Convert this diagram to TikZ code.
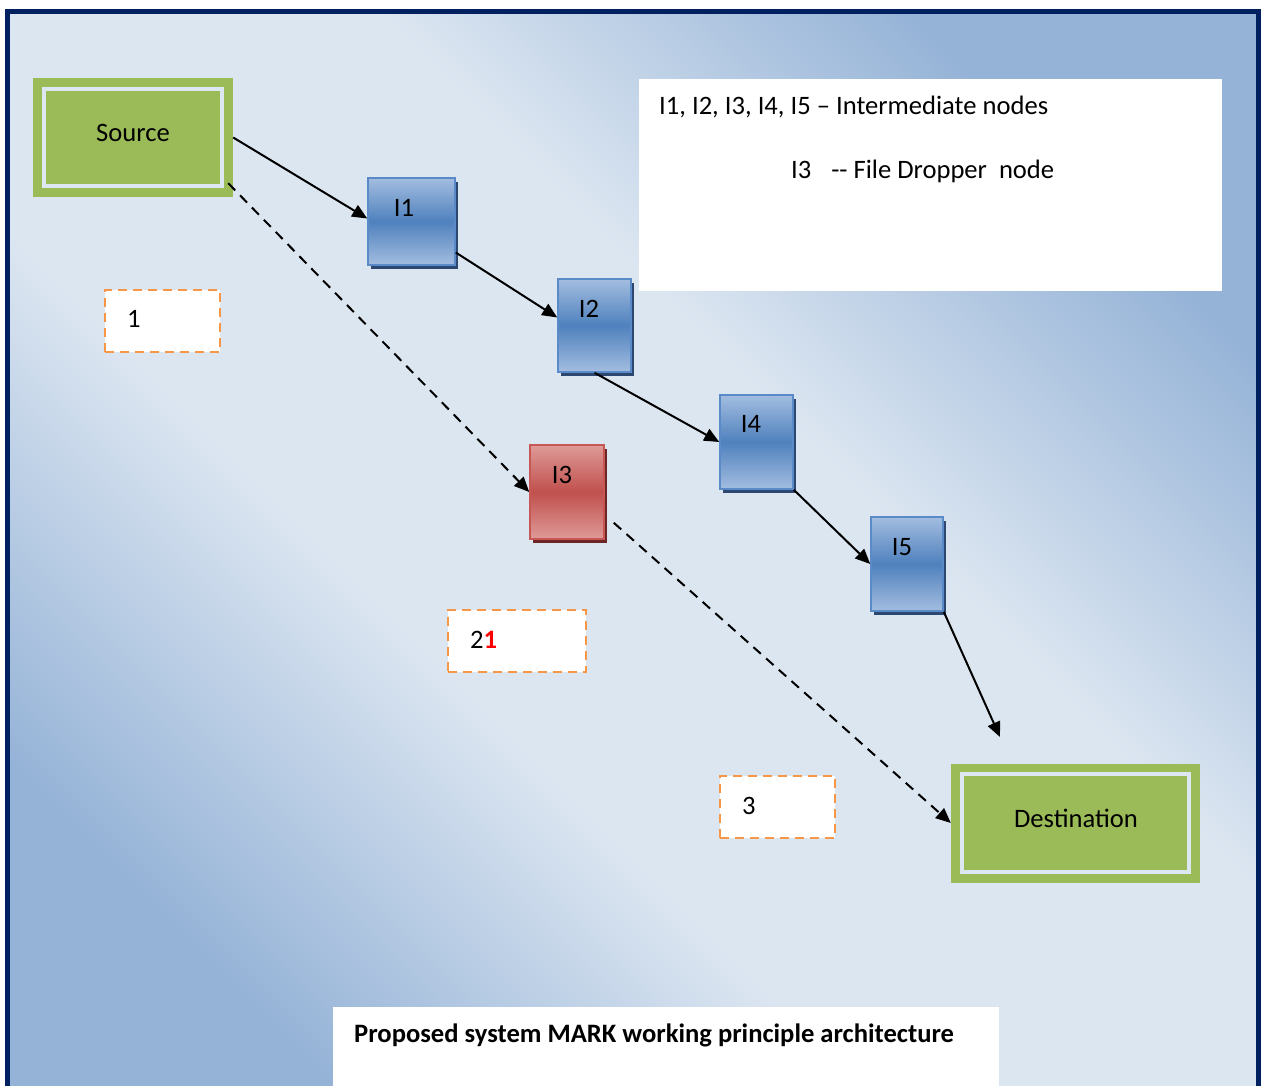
\documentclass[tikz,border=0pt]{standalone}
\usepackage{fontspec}
\setmainfont{Carlito}
\usetikzlibrary{arrows.meta,shadows,calc}
\definecolor{navy}{HTML}{002060}
\definecolor{bgblue}{HTML}{95B3D7}
\definecolor{bglight}{HTML}{DCE6F1}
\definecolor{grn}{HTML}{9BBB59}
\definecolor{innerline}{HTML}{DDE7F2}
\definecolor{orng}{HTML}{F79646}
\definecolor{bmid}{HTML}{4F81BD}
\definecolor{blight}{HTML}{A3BDE0}
\definecolor{bedge}{HTML}{5B8AC9}
\definecolor{bshadow}{HTML}{2C4770}
\definecolor{rmid}{HTML}{C0504D}
\definecolor{rlight}{HTML}{DE9A98}
\definecolor{redge}{HTML}{C65754}
\definecolor{rshadow}{HTML}{6E2624}
\pgfdeclarehorizontalshading{bgshade}{100bp}{color(0bp)=(bgblue); color(25bp)=(bgblue); color(41bp)=(bglight); color(59bp)=(bglight); color(75bp)=(bgblue); color(100bp)=(bgblue)}
\begin{document}
\begin{tikzpicture}[x=1pt,y=-1pt,
  lbl/.style={font=\fontsize{26.6}{31}\selectfont, inner sep=0pt, text=black},
  greenbox/.style={fill=grn, inner sep=0pt},
  innerframe/.style={draw=innerline, line width=4pt},
  bluebox/.style={draw=bedge, line width=1.5pt, top color=blight, bottom color=blight, middle color=bmid, inner sep=0pt,
    drop shadow={shadow xshift=3pt, shadow yshift=-4pt, fill=bshadow, opacity=1}},
  redbox/.style={draw=redge, line width=1.5pt, top color=rlight, bottom color=rlight, middle color=rmid, inner sep=0pt,
    drop shadow={shadow xshift=3pt, shadow yshift=-4pt, fill=rshadow, opacity=1}},
  dashbox/.style={draw=orng, fill=white, line width=2pt, dash pattern=on 9pt off 6pt, inner sep=0pt},
  whitebox/.style={fill=white, inner sep=0pt},
  arr/.style={line width=2pt, -{Triangle[length=15pt,width=13pt]}},
  darr/.style={line width=2pt, dash pattern=on 10pt off 7pt, -{Triangle[length=15pt,width=13pt]}}
]
\clip (0,0) rectangle (1261,1086);
\fill[white] (0,0) rectangle (1261,1086);
% background
\shade[shading=bgshade, shading angle=45] (7.5,11.5) rectangle (1258.5,1110);
\draw[navy, line width=5pt] (7.5,11.5) rectangle (1258.5,1110);

% legend and caption boxes
\node[whitebox, minimum width=583pt, minimum height=212pt] (legend) at (930.5,185) {};
\node[lbl, anchor=west] (leg1) at (659,107) {I1, I2, I3, I4, I5 – Intermediate nodes};
\node[lbl, anchor=west] (leg2) at (791,171) {I3\hspace{0.75em}-{}- File Dropper\ \ node};
\node[whitebox, minimum width=666pt, minimum height=110pt] (capbox) at (666,1062) {};
\node[lbl, anchor=west, font=\fontsize{26.6}{31}\selectfont\bfseries] (cap) at (354,1035) {Proposed system MARK working principle architecture};

% source / destination
\node[greenbox, minimum width=200pt, minimum height=119pt] (src) at (133,137.5) {};
\draw[innerframe] ([shift={(11pt,-11pt)}]src.north west) rectangle ([shift={(-11pt,11pt)}]src.south east);
\node[lbl] (srct) at (133,133) {Source};
\node[greenbox, minimum width=249pt, minimum height=119pt] (dst) at (1075.5,823) {};
\draw[innerframe] ([shift={(11pt,-11pt)}]dst.north west) rectangle ([shift={(-11pt,11pt)}]dst.south east);
\node[lbl] (dstt) at (1076,818) {Destination};

% intermediate nodes
\node[bluebox, minimum width=87pt, minimum height=87pt] (i1) at (411.5,221.5) {};
\node[lbl] (i1t) at (404,208) {I1};
\node[bluebox, minimum width=73pt, minimum height=93pt] (i2) at (594.5,325.5) {};
\node[lbl] (i2t) at (589,309) {I2};
\node[bluebox, minimum width=73pt, minimum height=94pt] (i4) at (756.5,442) {};
\node[lbl] (i4t) at (751,424) {I4};
\node[bluebox, minimum width=72pt, minimum height=94pt] (i5) at (907,564) {};
\node[lbl] (i5t) at (902,547) {I5};
\node[redbox, minimum width=74pt, minimum height=94pt] (i3) at (567,492) {};
\node[lbl] (i3t) at (562,475) {I3};

% dashed label boxes
\node[dashbox, minimum width=115pt, minimum height=62pt] (b1) at (162.5,321) {};
\node[lbl, anchor=west] (b1t) at (127,319) {1};
\node[dashbox, minimum width=138pt, minimum height=62pt] (b2) at (517,641) {};
\node[lbl, anchor=west] (b2t) at (470,640) {2\textcolor{red}{\textbf{1}}};
\node[dashbox, minimum width=115pt, minimum height=62pt] (b3) at (777.5,807) {};
\node[lbl, anchor=west] (b3t) at (742,806) {3};

% connectors
\coordinate (i5end) at (1000,737);
\draw[arr] (src.east) -- ([yshift=3pt]i1.west);
\draw[arr] ([yshift=-31pt]i1.east) -- ([yshift=8pt]i2.west);
\draw[arr] (i2.south) -- (i4.west);
\draw[arr] (i4.south east) -- (i5.west);
\draw[arr] (i5.south east) -- (i5end);
\draw[darr] ([xshift=-5pt,yshift=14pt]src.south east) -- (i3.west);
\draw[darr] ([xshift=9pt,yshift=17pt]i3.south east) -- (dst.west);
\end{tikzpicture}
\end{document}
